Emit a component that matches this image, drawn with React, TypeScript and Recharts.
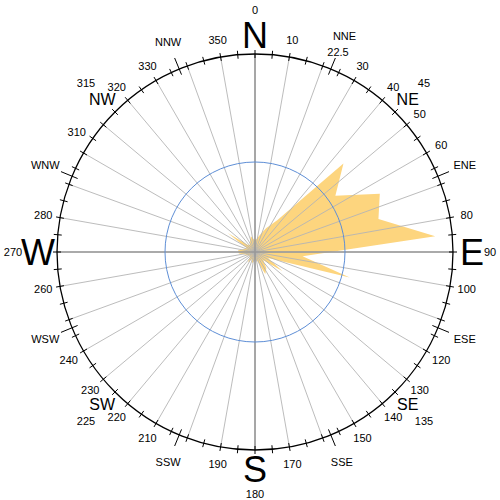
import React from 'react'
import {
  RadarChart,
  Radar,
  PolarGrid,
  PolarAngleAxis,
  PolarRadiusAxis,
} from 'recharts'

// wind direction bins (degrees, centre of each 10° sector)
const directions = [
  5, 15, 25, 35, 45, 55, 65, 75, 85, 95, 105, 115, 125, 135, 145, 155, 165, 175,
  185, 195, 205, 215, 225, 235, 245, 255, 265, 275, 285, 295, 305, 315, 325, 335,
  345, 355,
]
// frequency per sector (%)
const frequency = [
  1.4, 1.9, 2.9, 4.3, 13.9, 10.9, 15.3, 14.2, 20.1, 5.3, 10.9, 1.6, 3.7, 1.3, 2.2,
  2.7, 1.1, 0.9, 1.0, 1.3, 0.9, 1.4, 0.8, 0.7, 0.9, 1.1, 1.8, 1.9, 1.3, 1.0, 3.7,
  1.1, 1.0, 1.3, 1.8, 1.4,
]

const cardinalDirs = [0, 90, 180, 270]
const cardinalNames = ['N', 'E', 'S', 'W']
const interDirs = [45, 135, 225, 315]
const interNames = ['NE', 'SE', 'SW', 'NW']
const secondaryDirs = [22.5, 67.5, 112.5, 157.5, 202.5, 247.5, 292.5, 337.5]
const secondaryNames = ['NNE', 'ENE', 'ESE', 'SSE', 'SSW', 'WSW', 'WNW', 'NNW']
const degreeLabels = [
  10, 30, 40, 50, 60, 80, 100, 120, 130, 140, 150, 170, 190, 210, 220, 230, 240,
  260, 280, 310, 320, 330, 350,
]
const spokeDirs = Array.from({ length: 36 }, (_, i) => i * 10)
const ringTicks = [...Array.from({ length: 72 }, (_, i) => i * 5), ...secondaryDirs].sort(
  (a, b) => a - b
)
const refLevels = [10]
const maxValue = 22

const rows = directions.map((d, i) => ({ dir: d, freq: frequency[i] }))

const CX = 255
const CY = 252
const R = 198
const FONT = 'Arial, "Liberation Sans", sans-serif'

// the 310 label sits a little below its tick in the original
const labelNudge: Record<number, number> = { 310: -6 }
// keep "90" inside the right edge
const cardinalNumRadius: Record<number, number> = { 90: 235 }

const toChartAngle = (bearing: number) => 90 - bearing

function pt(cx: number, cy: number, r: number, bearing: number) {
  const a = (bearing * Math.PI) / 180
  return { x: cx + r * Math.sin(a), y: cy - r * Math.cos(a) }
}

function RingTick(props: any) {
  const bearing: number = props.payload.value
  const cx = CX
  const cy = CY
  const isSecondary = secondaryDirs.includes(bearing)
  const p1 = pt(cx, cy, isSecondary ? R - 6 : R - 4, bearing)
  const p2 = pt(cx, cy, isSecondary ? R + 12 : R + 4, bearing)
  const parts: React.ReactNode[] = [
    <line key="t" x1={p1.x} y1={p1.y} x2={p2.x} y2={p2.y} stroke="#000" strokeWidth={1} />,
  ]
  const txt = (key: string, r: number, s: string, size: number, b = bearing) => {
    const p = pt(cx, cy, r, b)
    return (
      <text
        key={key}
        x={p.x}
        y={p.y}
        textAnchor="middle"
        dominantBaseline="central"
        fontSize={size}
        fontFamily={FONT}
        fill="#000"
      >
        {s}
      </text>
    )
  }
  if (degreeLabels.includes(bearing))
    parts.push(txt('d', 215, String(bearing), 11, bearing + (labelNudge[bearing] || 0)))
  const ci = cardinalDirs.indexOf(bearing)
  if (ci >= 0) {
    parts.push(txt('c', 217, cardinalNames[ci], 36))
    parts.push(txt('cd', cardinalNumRadius[bearing] || 242, String(bearing), 11))
  }
  const ii = interDirs.indexOf(bearing)
  if (ii >= 0) {
    parts.push(txt('i', 216, interNames[ii], 16))
    parts.push(txt('id', 239, String(bearing), 11))
  }
  const si = secondaryDirs.indexOf(bearing)
  if (si >= 0) {
    parts.push(txt('s', bearing === 22.5 ? 234 : 227, secondaryNames[si], 11))
    if (bearing === 22.5) parts.push(txt('sd', 217, '22.5', 11))
  }
  return <g>{parts}</g>
}

export default function App() {
  return (
    <div style={{ position: 'absolute', left: 0, top: 0, background: '#fff' }}>
      <RadarChart
        width={500}
        height={500}
        cx={CX}
        cy={CY}
        outerRadius={R}
        startAngle={90}
        endAngle={-270}
        data={rows}
        margin={{ top: 0, right: 0, bottom: 0, left: 0 }}
      >
        <PolarAngleAxis
          dataKey="dir"
          type="number"
          domain={[0, 360]}
          ticks={ringTicks}
          tick={<RingTick />}
          tickLine={false}
          axisLine={{ stroke: '#000', strokeWidth: 1.3 }}
          axisLineType="circle"
        />
        <PolarRadiusAxis
          domain={[0, maxValue]}
          type="number"
          axisLine={false}
          tick={false}
        />
        <Radar
          dataKey="freq"
          fill="#FDD57E"
          fillOpacity={1}
          stroke="none"
          isAnimationActive={false}
          zIndex={100}
        />
        <PolarGrid
          polarAngles={spokeDirs.map(toChartAngle)}
          polarRadius={[]}
          stroke="#b4b4b4"
          strokeWidth={0.9}
          zIndex={300}
        />
        <PolarGrid
          polarAngles={cardinalDirs.map(toChartAngle)}
          polarRadius={[]}
          stroke="#999"
          strokeWidth={1.6}
          zIndex={300}
        />
        <PolarGrid
          polarAngles={[]}
          polarRadius={refLevels.map((v) => (v / maxValue) * R)}
          gridType="circle"
          stroke="#5f8fd6"
          strokeWidth={1}
          zIndex={300}
        />
      </RadarChart>
    </div>
  )
}
